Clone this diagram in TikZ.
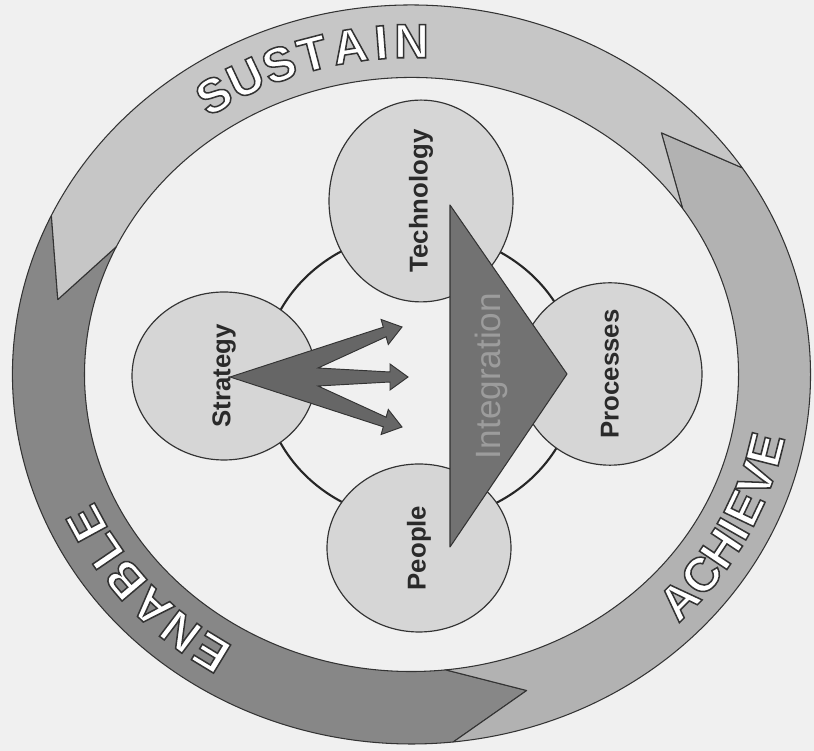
\documentclass[tikz,border=0pt]{standalone}
\usepackage{fontspec}
\setmainfont{Liberation Sans}
\usetikzlibrary{calc,shapes.geometric}
\newcommand\outlinetext[1]{\special{pdf:literal direct q 2 Tr 1.3 w 0.2 0.2 0.2 RG}#1\special{pdf:literal direct Q}}
\definecolor{bgc}{HTML}{F0F0F0}
\definecolor{sustainc}{HTML}{C6C6C6}
\definecolor{achievec}{HTML}{B2B2B2}
\definecolor{enablec}{HTML}{878787}
\definecolor{circc}{HTML}{D6D6D6}
\definecolor{trianglec}{HTML}{727272}
\definecolor{arrowc}{HTML}{666666}
\definecolor{integc}{HTML}{9C9C9C}
\definecolor{linec}{HTML}{333333}
\definecolor{labelc}{HTML}{2A2A2A}
\begin{document}
\begin{tikzpicture}[x=0.3mm,y=0.3mm,
  ringline/.style={draw=linec, line width=0.9pt, line join=round},
  smallcirc/.style={ellipse, draw=linec, line width=1pt, fill=circc,
    minimum width=50.4mm, minimum height=55.2mm, inner sep=0pt, rotate=90,
    font=\fontsize{22}{26}\selectfont\bfseries, text=labelc},
  ringtxt/.style={inner sep=0pt, font=\fontsize{41}{48}\selectfont\bfseries, text=white},
]
\fill[bgc] (0,0) rectangle (814,751);
\useasboundingbox (0,0) rectangle (814,751);
\coordinate (C) at (411.5,376.5);
% outer ring bands
\foreach \s/\e/\col in {154.5/276/enablec, -84/34/achievec, 34/154.5/sustainc} {
  \pgfmathsetmacro\tipa{\e+12.5}
  \pgfmathsetmacro\notcha{\s+12.5}
  \filldraw[ringline, fill=\col] ($(C)+(\s:399 and 369.5)$)
    arc[start angle=\s, end angle=\e, x radius=399, y radius=369.5]
    -- ($(C)+(\tipa:363 and 333.25)$)
    -- ($(C)+(\e:327 and 297)$)
    arc[start angle=\e, end angle=\s, x radius=327, y radius=297]
    -- ($(C)+(\notcha:363 and 333.25)$) -- cycle;
}
% ring texts
\foreach \ch/\t [count=\i] in {S/123,U/117.2,S/111.4,T/105.8,A/99.8,I/94.8,N/90} {
  \pgfmathsetmacro\r{atan2(333.25*cos(\t),-363*sin(\t))+180}
  \node[ringtxt, rotate=\r] (sus\i) at ($(C)+(\t:363 and 333.25)$) {\outlinetext{\ch}};
}
\foreach \ch/\t [count=\i] in {A/-42.5,C/-37,H/-31.5,I/-27.6,E/-23.6,V/-18.3,E/-13} {
  \pgfmathsetmacro\r{atan2(333.25*cos(\t),-363*sin(\t))}
  \node[ringtxt, rotate=\r] (ach\i) at ($(C)+(\t:363 and 333.25)$) {\outlinetext{\ch}};
}
\foreach \ch/\t [count=\i] in {E/-123.5,N/-129.5,A/-135.7,B/-142,L/-148,E/-153.5} {
  \pgfmathsetmacro\r{atan2(333.25*cos(\t),-363*sin(\t))+180}
  \node[ringtxt, rotate=\r] (ena\i) at ($(C)+(\t:363 and 333.25)$) {\outlinetext{\ch}};
}
% inner connecting ring
\draw[line width=1.8pt, draw=black!85] (420,374.5) ellipse [x radius=157, y radius=144.6];
% small circles
\node[smallcirc] (strategy) at (224,375) {Strategy};
\node[smallcirc] (technology) at (421,550) {Technology};
\node[smallcirc] (processes) at (610,377) {Processes};
\node[smallcirc] (people) at (419,203) {People};
% integration triangle
\coordinate (itop) at (450,546);
\coordinate (ibot) at (450,204);
\coordinate (itip) at (567,377);
\filldraw[draw=linec, line width=0.9pt, fill=trianglec, line join=round] (itop) -- (itip) -- (ibot) -- cycle;
\node[rotate=90, inner sep=0pt, font=\fontsize{30}{36}\selectfont, text=integc] (integration) at (491,375) {Integration};
% strategy fan arrows
\coordinate (O) at (230,374);
\coordinate (T1) at (402,424);
\coordinate (T2) at (408,374);
\coordinate (T3) at (402,324);
\filldraw[draw=linec, line width=0.8pt, fill=arrowc, line join=miter]
  (O) -- (383.3,423.8) -- (381.1,431.5) -- (T1) -- (388.3,406.5) -- (386.1,414.2)
  -- (318,383) -- (390,379) -- (390,387) -- (T2) -- (390,361) -- (390,369)
  -- (318,365) -- (386.1,333.8) -- (388.3,341.5) -- (T3) -- (381.1,316.5) -- (383.3,324.2) -- cycle;
\end{tikzpicture}
\end{document}
